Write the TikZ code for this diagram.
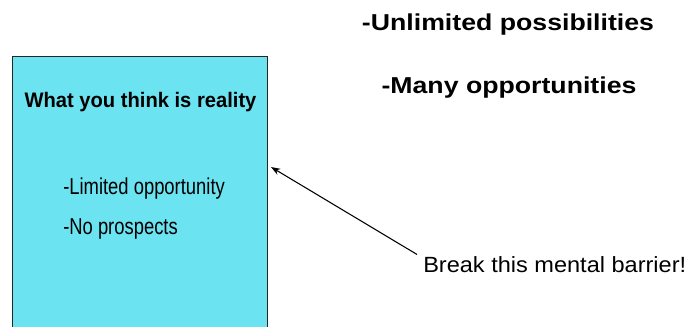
\documentclass[tikz,border=0pt]{standalone}
\usepackage{fontspec}
\setmainfont{Liberation Sans}
\newfontfamily\widefont[FakeStretch=1.16]{Liberation Sans}
\newfontfamily\titlefont[FakeStretch=0.96]{Liberation Sans}
\newfontfamily\narrowfont[FakeStretch=0.8]{Liberation Sans}
\newfontfamily\notefont[FakeStretch=1.07]{Liberation Sans}
\usetikzlibrary{arrows.meta}
\definecolor{realitycyan}{RGB}{108,227,240}
\tikzset{
	bigline/.style={anchor=base, inner sep=0pt, font=\widefont\fontsize{17.25}{20}\selectfont\bfseries},
	boxitem/.style={anchor=base west, inner sep=0pt, font=\narrowfont\fontsize{17.25}{20}\selectfont},
	realitybox/.style={draw=black!85, line width=0.8pt, fill=realitycyan, inner sep=0pt, anchor=north west, minimum width=255*0.75pt, minimum height=290*0.75pt}
}
\begin{document}
\begin{tikzpicture}[x=0.75pt, y=-0.75pt]
	\useasboundingbox (0,0) rectangle (696,326);
	\node[realitybox] (box) at (12,56) {};
	\node[anchor=base, inner sep=0pt, font=\titlefont\fontsize{15.75}{18}\selectfont\bfseries] (title) at (140.5,107) {What you think is reality};
	\node[boxitem] (limited) at (63,194) {-Limited opportunity};
	\node[boxitem] (noprospects) at (63,234) {-No prospects};
	
	\node[bigline] (unlimited) at (508,30) {-Unlimited possibilities};
	\node[bigline] (many) at (509,93) {-Many opportunities};
	
	\node[anchor=base west, inner sep=0pt, font=\notefont\fontsize{16.5}{19}\selectfont] (barrier) at (423,272) {Break this mental barrier!};
	\coordinate (hit) at (271,167);
	\draw[line width=0.8pt, -{Stealth[length=7pt, width=5pt]}] ([xshift=-4.5pt, yshift=1pt]barrier.north west) -- (hit);
\end{tikzpicture}
\end{document}
